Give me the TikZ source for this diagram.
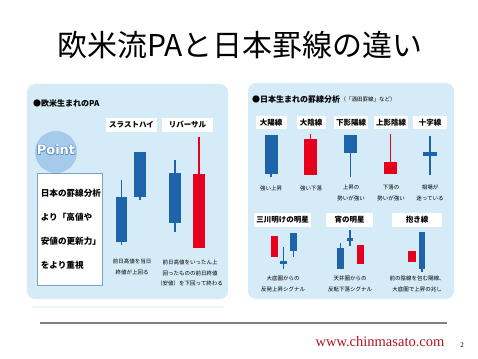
\documentclass[tikz,border=0pt]{standalone}
\usepackage{fontspec}
\setmainfont{Liberation Serif}
\newfontfamily\jpfont{Noto Sans CJK JP}
\newfontfamily\pointfont{DejaVu Sans}
\definecolor{panelblue}{RGB}{214,235,248}
\definecolor{candleblue}{RGB}{30,100,170}
\definecolor{candlered}{RGB}{230,0,30}
\definecolor{pointblue}{RGB}{165,202,236}
\definecolor{urlred}{RGB}{175,20,30}
% Kerze: x, Docht oben, Koerper oben, Koerper unten, Docht unten, Farbe, halbe Breite
\newcommand{\candle}[7]{%
  \draw[#6, line width=1.8pt] (#1,#2) -- (#1,#5);
  \fill[#6] (#1-#7,#3) rectangle (#1+#7,#4);}

\begin{document}
\begin{tikzpicture}[x=1pt, y=-1pt,
    labelbox/.style={fill=white, font=\jpfont\bfseries\fontsize{7.5}{8}\selectfont, minimum height=13, inner xsep=2},
    caption/.style={font=\jpfont\fontsize{5.5}{10.5}\selectfont, align=center, inner sep=0},
    header/.style={font=\jpfont\bfseries\fontsize{8}{9}\selectfont, anchor=west, inner sep=0}]
  \useasboundingbox (0,0) rectangle (478,358);
  % Titel
  \node[font=\jpfont\fontsize{30}{32}\selectfont] (title) at (240,45) {欧米流PAと日本罫線の違い};
  % Hintergrundflaechen
  \fill[panelblue, rounded corners=8] (27,84) rectangle (228,299);
  \fill[panelblue, rounded corners=8] (248,83) rectangle (454,299);
  \draw[panelblue!45, line width=1.2] (32,307) -- (224,307);
  %%% linke Seite
  \node[header] (hdrwest) at (33,103) {●欧米生まれのPA};
  \node[labelbox, minimum width=51] (lblthrust) at (131.5,125) {スラストハイ};
  \node[labelbox, minimum width=51] (lblreversal) at (187.5,125) {リバーサル};
  % Point-Kreis
  \fill[pointblue] (56,152) circle (21);
  \foreach \dx/\dy in {-.6/0,.6/0,0/-.6,0/.6,-.45/-.45,.45/.45,-.45/.45,.45/-.45}
    \node[font=\pointfont\bfseries\fontsize{13}{14}\selectfont, text=candleblue!70] at (56+\dx,150+\dy) {Point};
  \node[font=\pointfont\bfseries\fontsize{13}{14}\selectfont, text=white] (point) at (56,150) {Point};
  \node[draw=candleblue!60, fill=white, line width=0.6, anchor=north west, minimum width=65, minimum height=112,
        text width=58, align=left, inner xsep=3.5, font=\jpfont\bfseries\fontsize{8.6}{24}\selectfont] (pointtext) at (37,173)
        {日本の罫線分析\\より「高値や\\安値の更新力」\\をより重視};
  % Kerzen
  \candle{121.5}{180}{197}{242}{245}{candleblue}{5.5}
  \candle{140}{152}{152}{197}{200}{candleblue}{6}
  \candle{175}{160}{173}{223}{232}{candleblue}{6}
  \candle{199}{137}{174}{248}{248}{candlered}{6}
  \node[caption] (capthrust) at (132,267) {前日高値を当日\\終値が上回る};
  \node[caption] (capreversal) at (190,273) {前日高値をいったん上\\回ったものの前日終値\\（安値）を下回って終わる};
  %%% rechte Seite
  \node[header] (hdrjapan) at (252,99) {●日本生まれの罫線分析};
  \node[font=\jpfont\fontsize{5.5}{6}\selectfont, anchor=west, inner sep=0] (hdrsakata) at (hdrjapan.east) {（「酒田罫線」など）};
  % obere Reihe
  \node[labelbox, minimum width=31] (lbldaiyo) at (271,122.5) {大陽線};
  \node[labelbox, minimum width=29] (lbldaiin) at (311,122.5) {大陰線};
  \node[labelbox, minimum width=33] (lblshitakage) at (351,122.5) {下影陽線};
  \node[labelbox, minimum width=33] (lbluwakage) at (391,122.5) {上影陰線};
  \node[labelbox, minimum width=34] (lbljuji) at (430,122.5) {十字線};
  \candle{271}{135}{135}{174}{177}{candleblue}{6.5}
  \candle{310.5}{134}{139}{175}{175}{candlered}{6.5}
  \candle{350.5}{135}{135}{153}{177}{candleblue}{6.5}
  \candle{390.5}{134}{162}{174}{174}{candlered}{6.5}
  \candle{430}{136}{152}{156}{175}{candleblue}{7}
  \node[caption] (capdaiyo) at (271,188) {強い上昇};
  \node[caption] (capdaiin) at (311,188) {強い下落};
  \node[caption] (capshitakage) at (351,193) {上昇の\\勢いが強い};
  \node[caption] (capuwakage) at (391,193) {下落の\\勢いが強い};
  \node[caption] (capjuji) at (430,193) {相場が\\迷っている};
  % untere Reihe
  \node[labelbox, minimum width=51] (lblsansen) at (282.5,220) {三川明けの明星};
  \node[labelbox, minimum width=47] (lblyoi) at (349.5,220) {宵の明星};
  \node[labelbox, minimum width=50] (lbldaki) at (417,220) {抱き線};
  \candle{274}{236}{236}{257}{257}{candlered}{3.5}
  \candle{283.5}{247}{261}{264}{269}{candleblue}{3.5}
  \candle{293.5}{233}{233}{251}{257}{candleblue}{3.5}
  \candle{340.5}{243}{248}{269}{269}{candleblue}{3.5}
  \candle{350}{230}{238}{241}{246}{candleblue}{3.2}
  \candle{360.5}{245}{245}{264}{264}{candlered}{3.5}
  \candle{412}{251}{251}{262}{262}{candlered}{4}
  \candle{422}{232}{232}{269}{272}{candleblue}{3.2}
  \node[caption] (capsansen) at (283,284) {大底圏からの\\反発上昇シグナル};
  \node[caption] (capyoi) at (350,284) {天井圏からの\\反転下落シグナル};
  \node[caption] (capdaki) at (417,284) {前の陰線を包む陽線、\\大底圏で上昇の兆し};
  %%% Fusszeile
  \draw[gray, line width=2.2] (40,323) -- (447,323);
  \node[font=\fontsize{14.5}{16}\selectfont, text=urlred] (url) at (380,342) {www.chinmasato.com};
  \node[font=\fontsize{7}{8}\selectfont] (pagenum) at (462,345) {2};
\end{tikzpicture}
\end{document}
